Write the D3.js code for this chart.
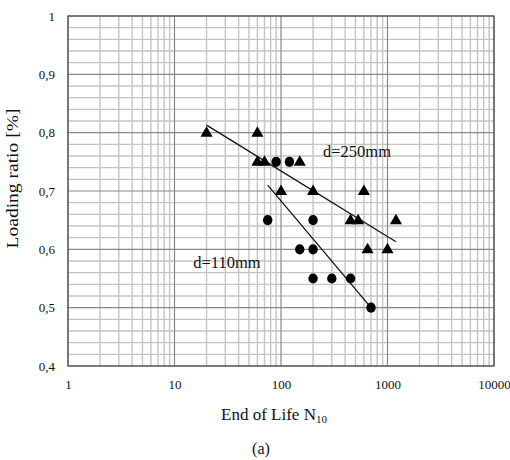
<!DOCTYPE html>
<html>
<head>
<meta charset="utf-8">
<script src="https://cdn.jsdelivr.net/npm/d3@7"></script>
<style>
  body { margin: 0; background: #fff; }
  text { font-family: "Liberation Serif", "Times New Roman", serif; fill: #111; }
</style>
</head>
<body>
<div id="chart"></div>
<script>
// values
const xTicks = [1, 10, 100, 1000, 10000];
const xTickLabels = ["1", "10", "100", "1000", "10000"];
const yTicks = [0.4, 0.5, 0.6, 0.7, 0.8, 0.9, 1];
const yTickLabels = ["0,4", "0,5", "0,6", "0,7", "0,8", "0,9", "1"];

// d=250mm (triangles)
const triN = [20, 60, 60, 70, 150, 100, 200, 600, 450, 530, 1200, 650, 1000];
const triR = [0.8, 0.8, 0.75, 0.75, 0.75, 0.7, 0.7, 0.7, 0.65, 0.65, 0.65, 0.6, 0.6];
// d=110mm (circles)
const dotN = [90, 120, 75, 200, 150, 200, 200, 300, 450, 700];
const dotR = [0.75, 0.75, 0.65, 0.65, 0.6, 0.6, 0.55, 0.55, 0.55, 0.5];
// trend lines, end points
const fit250 = [[20, 0.813], [1200, 0.613]];
const fit110 = [[75, 0.71], [700, 0.5]];
const labels = ["d=250mm", "d=110mm"];

(() => {
  const width = 510, height = 460;
  const margin = { top: 16, right: 16, bottom: 94, left: 68 };

  const svg = d3.select("#chart").append("svg")
    .attr("width", width).attr("height", height);

  const x = d3.scaleLog().domain([1, 10000]).range([margin.left, width - margin.right]);
  const y = d3.scaleLinear().domain([0.4, 1]).range([height - margin.bottom, margin.top]);

  // grid
  const minorX = [];
  for (let d = 1; d < 10000; d *= 10) for (let k = 2; k <= 9; k++) minorX.push(d * k);
  const minorY = d3.range(0.42, 1, 0.02).filter(v => Math.abs(v * 10 - Math.round(v * 10)) > 1e-6);

  const grid = svg.append("g");
  grid.selectAll(".mx").data(minorX).join("line")
    .attr("x1", d => x(d)).attr("x2", d => x(d))
    .attr("y1", y(0.4)).attr("y2", y(1))
    .attr("stroke", "#c4c4c4").attr("stroke-width", 1.4);
  grid.selectAll(".my").data(minorY).join("line")
    .attr("x1", x(1)).attr("x2", x(10000))
    .attr("y1", d => y(d)).attr("y2", d => y(d))
    .attr("stroke", "#c4c4c4").attr("stroke-width", 1.4);
  grid.selectAll(".Mx").data(xTicks).join("line")
    .attr("x1", d => x(d)).attr("x2", d => x(d))
    .attr("y1", y(0.4)).attr("y2", y(1))
    .attr("stroke", "#888").attr("stroke-width", 1.2);
  grid.selectAll(".My").data(yTicks).join("line")
    .attr("x1", x(1)).attr("x2", x(10000))
    .attr("y1", d => y(d)).attr("y2", d => y(d))
    .attr("stroke", "#888").attr("stroke-width", 1.2);

  svg.append("rect")
    .attr("x", x(1)).attr("y", y(1))
    .attr("width", x(10000) - x(1)).attr("height", y(0.4) - y(1))
    .attr("fill", "none").attr("stroke", "#555").attr("stroke-width", 1.3);

  // axes (labels only)
  const xAxis = svg.append("g")
    .attr("transform", `translate(0,${height - margin.bottom})`)
    .call(d3.axisBottom(x).tickValues(xTicks).tickSize(0).tickPadding(14)
      .tickFormat((d, i) => xTickLabels[i]));
  const yAxis = svg.append("g")
    .attr("transform", `translate(${margin.left},0)`)
    .call(d3.axisLeft(y).tickValues(yTicks).tickSize(0).tickPadding(13)
      .tickFormat((d, i) => yTickLabels[i]));
  [xAxis, yAxis].forEach(a => {
    a.attr("font-family", null);
    a.select(".domain").remove();
    a.selectAll("text").attr("font-size", 13).attr("fill", "#111");
  });

  // trend lines
  const line = d3.line().x(d => x(d[0])).y(d => y(d[1]));
  [fit250, fit110].forEach(f => {
    svg.append("path").datum(f).attr("d", line)
      .attr("stroke", "#111").attr("stroke-width", 1.3).attr("fill", "none");
  });

  // markers
  const tri = d3.symbol().type(d3.symbolTriangle).size(64);
  svg.append("g").selectAll("path").data(triN.map((n, i) => [n, triR[i]])).join("path")
    .attr("d", tri)
    .attr("transform", d => `translate(${x(d[0])},${y(d[1]) + 0.5})`)
    .attr("fill", "#000");
  svg.append("g").selectAll("ellipse").data(dotN.map((n, i) => [n, dotR[i]])).join("ellipse")
    .attr("cx", d => x(d[0])).attr("cy", d => y(d[1]))
    .attr("rx", 4.7).attr("ry", 5.1)
    .attr("fill", "#000");

  // annotations
  svg.append("text").attr("x", x(248)).attr("y", y(0.758))
    .attr("font-size", 16.5).text(labels[0]);
  svg.append("text").attr("x", x(15)).attr("y", y(0.568))
    .attr("font-size", 16.5).text(labels[1]);

  // axis titles
  const xt = svg.append("text").attr("x", 274).attr("y", 420)
    .attr("text-anchor", "middle").attr("font-size", 17);
  xt.append("tspan").text("End of Life N");
  xt.append("tspan").attr("font-size", 11).attr("dy", 3).text("10");

  svg.append("text")
    .attr("transform", `translate(18,${(108 + 249) / 2}) rotate(-90)`)
    .attr("text-anchor", "middle").attr("font-size", 16)
    .attr("textLength", 140).attr("lengthAdjust", "spacingAndGlyphs")
    .text("Loading ratio [%]");

  svg.append("text").attr("x", 261).attr("y", 454)
    .attr("text-anchor", "middle").attr("font-size", 16).text("(a)");
})();
</script>
</body>
</html>
